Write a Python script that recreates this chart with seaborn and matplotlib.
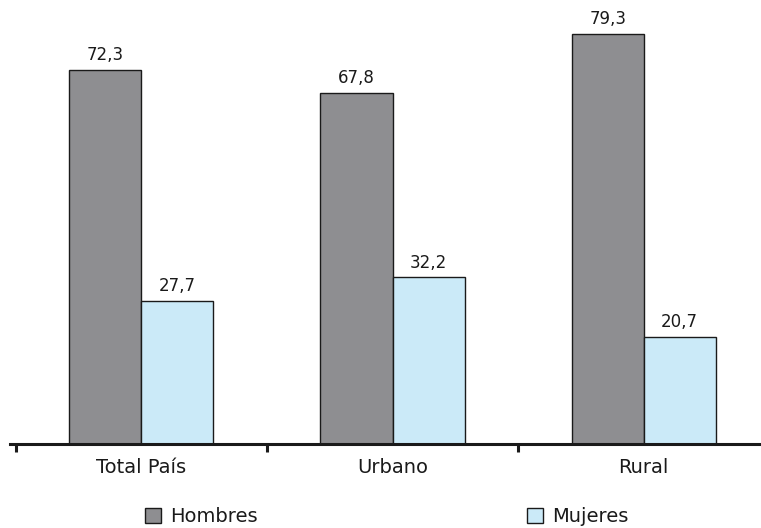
import matplotlib
matplotlib.use("Agg")
import matplotlib.pyplot as plt
import seaborn as sns
import pandas as pd
from matplotlib.patches import Patch

categories = ["Total País", "Urbano", "Rural"]
series_names = ["Hombres", "Mujeres"]
hombres = [72.3, 67.8, 79.3]
mujeres = [27.7, 32.2, 20.7]
colors = ["#8e8e91", "#cbeaf8"]

df = pd.DataFrame({
    "cat": categories * 2,
    "serie": [series_names[0]] * 3 + [series_names[1]] * 3,
    "val": hombres + mujeres,
})

sns.set_theme(style="white")
plt.rcParams["font.family"] = ["DejaVu Sans"]

fig = plt.figure(figsize=(7.61, 5.28), dpi=100)
ax = fig.add_axes([10 / 761, 84 / 528, 751 / 761, 440 / 528])

sns.barplot(data=df, x="cat", y="val", hue="serie", palette=colors,
            width=0.5736, edgecolor="#1a1a1a", linewidth=1.0, ax=ax,
            legend=False, saturation=1)

for cont in ax.containers:
    labels = [f"{v:.1f}".replace(".", ",") for v in cont.datavalues]
    ax.bar_label(cont, labels=labels, padding=4, fontsize=12, color="#1a1a1a")

ax.set_xlim(-0.523, 2.467)
ax.set_ylim(0, 85)
ax.set_xlabel("")
ax.set_ylabel("")
ax.set_yticks([])
for s in ["left", "right", "top"]:
    ax.spines[s].set_visible(False)
ax.spines["bottom"].set_color("#1a1a1a")
ax.spines["bottom"].set_linewidth(2.2)

ax.set_xticks([0, 1, 2])
ax.set_xticklabels(categories, fontsize=14, color="#1a1a1a")
ax.tick_params(axis="x", which="major", length=0, pad=10)
ax.set_xticks([-0.5, 0.5, 1.5], minor=True)
ax.tick_params(axis="x", which="minor", length=6, width=2.2, color="#1a1a1a",
               direction="out", bottom=True)

handles = [Patch(facecolor=colors[0], edgecolor="#1a1a1a", linewidth=1),
           Patch(facecolor=colors[1], edgecolor="#1a1a1a", linewidth=1)]
fig.legend(handles, series_names, loc="center", bbox_to_anchor=(0.5085, 1 - 517 / 528),
           ncol=2, frameon=False, fontsize=14, handlelength=0.8, handleheight=0.8,
           handletextpad=0.5, columnspacing=13.85, labelcolor="#1a1a1a")

fig.savefig("out.png", dpi=100)
